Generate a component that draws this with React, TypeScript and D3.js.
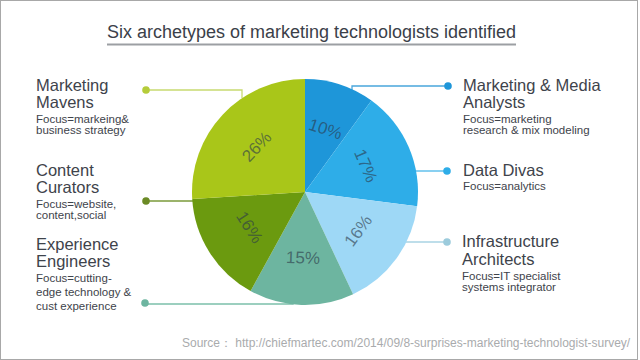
import React from "react";
import * as d3 from "d3";

const categories = [
  "Marketing & Media Analysts",
  "Data Divas",
  "Infrastructure Architects",
  "Experience Engineers",
  "Content Curators",
  "Marketing Mavens",
];
const values = [10, 17, 16, 15, 16, 26];
const colors = ["#1e96d9", "#2eade8", "#9ed8f6", "#6db5a0", "#6b9a0f", "#a9c619"];
const titles = [
  ["Marketing & Media", "Analysts"],
  ["Data Divas"],
  ["Infrastructure", "Architects"],
  ["Experience", "Engineers"],
  ["Content", "Curators"],
  ["Marketing", "Mavens"],
];
const focusLines = [
  ["Focus=marketing", "research & mix modeling"],
  ["Focus=analytics"],
  ["Focus=IT specialist", "systems integrator"],
  ["Focus=cutting-", "edge technology &", "cust experience"],
  ["Focus=website,", "content,social"],
  ["Focus=markeing&", "business strategy"],
];
const titleText = "Six archetypes of marketing technologists identified";
const sourceText = "Source：  http://chiefmartec.com/2014/09/8-surprises-marketing-technologist-survey/";

const FONT = "'Liberation Sans', Arial, sans-serif";

export default function App() {
  const cx = 305, cy = 192, R = 113, LR = 66;
  const pie = d3.pie<number>().sort(null).value((d) => d)(values);
  const arc = d3.arc<d3.PieArcDatum<number>>().innerRadius(0).outerRadius(R);
  const labelArc = d3.arc<d3.PieArcDatum<number>>().innerRadius(LR).outerRadius(LR);

  const layout = [
    { x: 463, ty: 91, tlh: 17, fy: 123, flh: 11, dot: [448, 86], line: "M448,86 H352 V101", lc: "#4aa6dc", dc: "#1e96d9" },
    { x: 463, ty: 176, tlh: 17, fy: 190, flh: 11, dot: [447, 171], line: "M447,171 H415", lc: "#4ab6ea", dc: "#2eade8" },
    { x: 462, ty: 247, tlh: 17.5, fy: 280, flh: 11, dot: [447, 242], line: "M447,242 H406", lc: "#a9d3e3", dc: "#9ccbdc" },
    { x: 36, ty: 250, tlh: 17, fy: 282, flh: 14, dot: [145, 303], line: "M145,304 H293 V300", lc: "#7cc0aa", dc: "#6db5a0" },
    { x: 36, ty: 176, tlh: 17, fy: 208, flh: 11, dot: [146, 201], line: "M146,201 H193", lc: "#7a9a3a", dc: "#6b8a25" },
    { x: 36, ty: 91, tlh: 17, fy: 123, flh: 11, dot: [146, 90], line: "M146,90 H242 V98", lc: "#c8da70", dc: "#b5cc3a" },
  ];

  return (
    <svg
      width={640}
      height={360}
      style={{ position: "fixed", left: 0, top: 0, background: "#fff" }}
      fontFamily={FONT}
    >
      <rect x={0.5} y={0.5} width={637} height={359} fill="#fff" stroke="#a8a8a8" />
      <text x={107} y={38} fontSize={18} textLength={409} lengthAdjust="spacingAndGlyphs" fill="#3b4049">{titleText}</text>
      <line x1={107} x2={516} y1={44.5} y2={44.5} stroke="#9c9fa3" strokeWidth={2} />

      {layout.map((l, i) => (
        <g key={categories[i]}>
          <path d={l.line} fill="none" stroke={l.lc} strokeWidth={1.3} />
          <circle cx={l.dot[0]} cy={l.dot[1]} r={3.8} fill={l.dc} />
          {titles[i].map((t, j) => (
            <text key={t} x={l.x} y={l.ty + j * l.tlh} fontSize={16.5} fill="#3e434b">{t}</text>
          ))}
          {focusLines[i].map((t, j) => (
            <text key={t} x={l.x} y={l.fy + j * l.flh} fontSize={11.5} fill="#3e434b">{t}</text>
          ))}
        </g>
      ))}

      <g transform={`translate(${cx},${cy})`}>
        {pie.map((p, i) => (
          <path key={i} d={arc(p) || ""} fill={colors[i]} />
        ))}
        {pie.map((p, i) => {
          const [lx, ly] = labelArc.centroid(p);
          const mid = ((p.startAngle + p.endAngle) / 2) * 180 / Math.PI;
          const rot = mid > 90 && mid < 270 ? mid - 180 : mid > 270 ? mid - 360 : mid;
          return (
            <text
              key={"l" + i}
              transform={`translate(${lx},${ly}) rotate(${rot})`}
              textAnchor="middle"
              dominantBaseline="central"
              fontSize={17}
              fill="#2c3a4a"
              fillOpacity={0.62}
            >
              {values[i]}%
            </text>
          );
        })}
      </g>

      <text x={182} y={347} fontSize={12} fill="#a9abad">{sourceText}</text>
    </svg>
  );
}
